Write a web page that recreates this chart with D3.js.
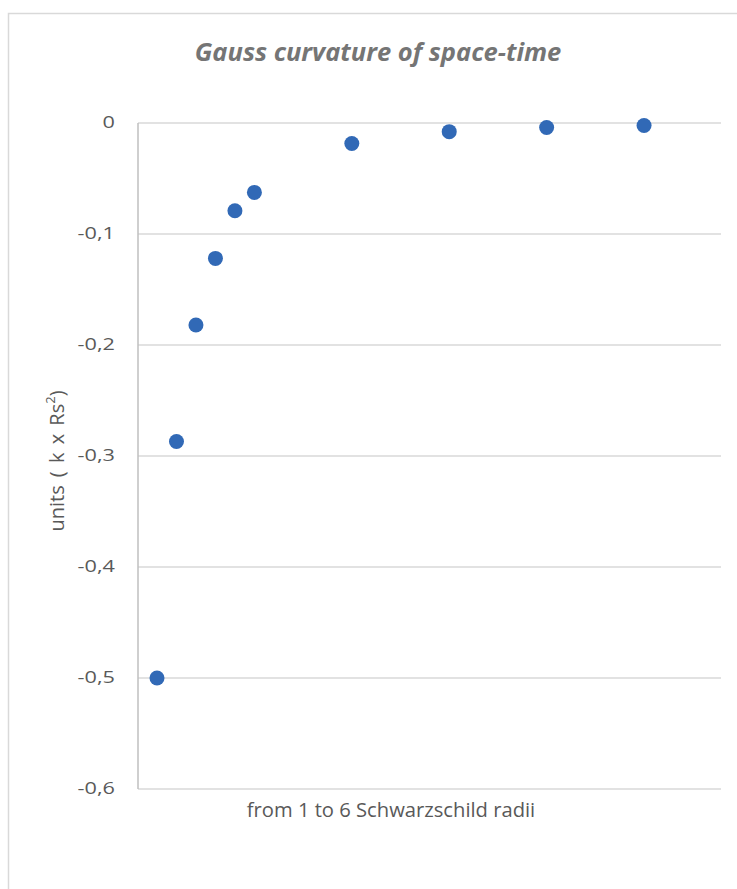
<!DOCTYPE html>
<html>
<head>
<meta charset="utf-8">
<script src="https://cdn.jsdelivr.net/npm/d3@7"></script>
<style>
  html, body { margin: 0; padding: 0; background: #fff; }
  svg { display: block; font-family: "Open Sans", "Noto Sans", sans-serif; }
</style>
</head>
<body>
<svg id="chart" width="737" height="889"></svg>
<script>
const title = "Gauss curvature of space-time";
const xTitle = "from 1 to 6 Schwarzschild radii";
const radii = [1, 1.2, 1.4, 1.6, 1.8, 2, 3, 4, 5, 6];
const curvature = [-0.5, -0.287, -0.182, -0.122, -0.079, -0.0625, -0.0185, -0.0078, -0.004, -0.0023];
const yTicks = [0, -0.1, -0.2, -0.3, -0.4, -0.5, -0.6];
const xDomain = [0.805, 6.79];

const svg = d3.select("#chart");
const plot = { left: 138, right: 721, top: 123, bottom: 789 };

// outer chart border
svg.append("rect")
  .attr("x", 8.5).attr("y", 13.5)
  .attr("width", 745).attr("height", 900)
  .attr("fill", "none").attr("stroke", "#d9d9d9").attr("stroke-width", 1.5);

const x = d3.scaleLinear().domain(xDomain).range([plot.left, plot.right]);
const y = d3.scaleLinear().domain([-0.6, 0]).range([plot.bottom, plot.top]);

// gridlines
svg.append("g").selectAll("line").data(yTicks).join("line")
  .attr("x1", plot.left).attr("x2", plot.right)
  .attr("y1", d => y(d)).attr("y2", d => y(d))
  .attr("stroke", "#d9d9d9").attr("stroke-width", 1.3);

// left axis line
svg.append("line")
  .attr("x1", plot.left).attr("x2", plot.left)
  .attr("y1", plot.top).attr("y2", plot.bottom)
  .attr("stroke", "#bfbfbf").attr("stroke-width", 1.5);

// y axis tick labels
const sx = 1.4;
const fmt = d => d === 0 ? "0" : d3.format(".1f")(d).replace("−", "-").replace(".", ",");
const yAxis = d3.axisLeft(y).tickValues(yTicks).tickSize(0).tickPadding(23).tickFormat(fmt);
const gy = svg.append("g").attr("transform", `translate(${plot.left},0)`).call(yAxis);
gy.select(".domain").remove();
gy.selectAll("text")
  .attr("fill", "#595959").attr("font-size", 15.5)
  .attr("font-family", "'Open Sans', sans-serif")
  .attr("x", -23 / sx)
  .attr("transform", `scale(${sx},1)`);

// points
svg.append("g").selectAll("circle").data(radii.map((r, i) => [r, curvature[i]])).join("circle")
  .attr("cx", d => x(d[0])).attr("cy", d => y(d[1]))
  .attr("r", 7.5).attr("fill", "#3169b6");

// title
svg.append("text")
  .attr("x", 378).attr("y", 61)
  .attr("text-anchor", "middle")
  .attr("font-size", 25.5).attr("font-weight", "bold").attr("font-style", "italic")
  .attr("fill", "#757575")
  .text(title);

// x axis title
svg.append("text")
  .attr("x", 391).attr("y", 817)
  .attr("text-anchor", "middle")
  .attr("font-size", 20.2).attr("fill", "#595959")
  .text(xTitle);

// y axis title
const yt = svg.append("text")
  .attr("transform", `translate(64,461) rotate(-90)`)
  .attr("text-anchor", "middle")
  .attr("font-size", 20).attr("fill", "#595959")
  .attr("word-spacing", 3);
yt.append("tspan").text("units ( k x Rs");
yt.append("tspan").attr("baseline-shift", "super").attr("font-size", 13).text("2");
yt.append("tspan").text(")");
</script>
</body>
</html>
